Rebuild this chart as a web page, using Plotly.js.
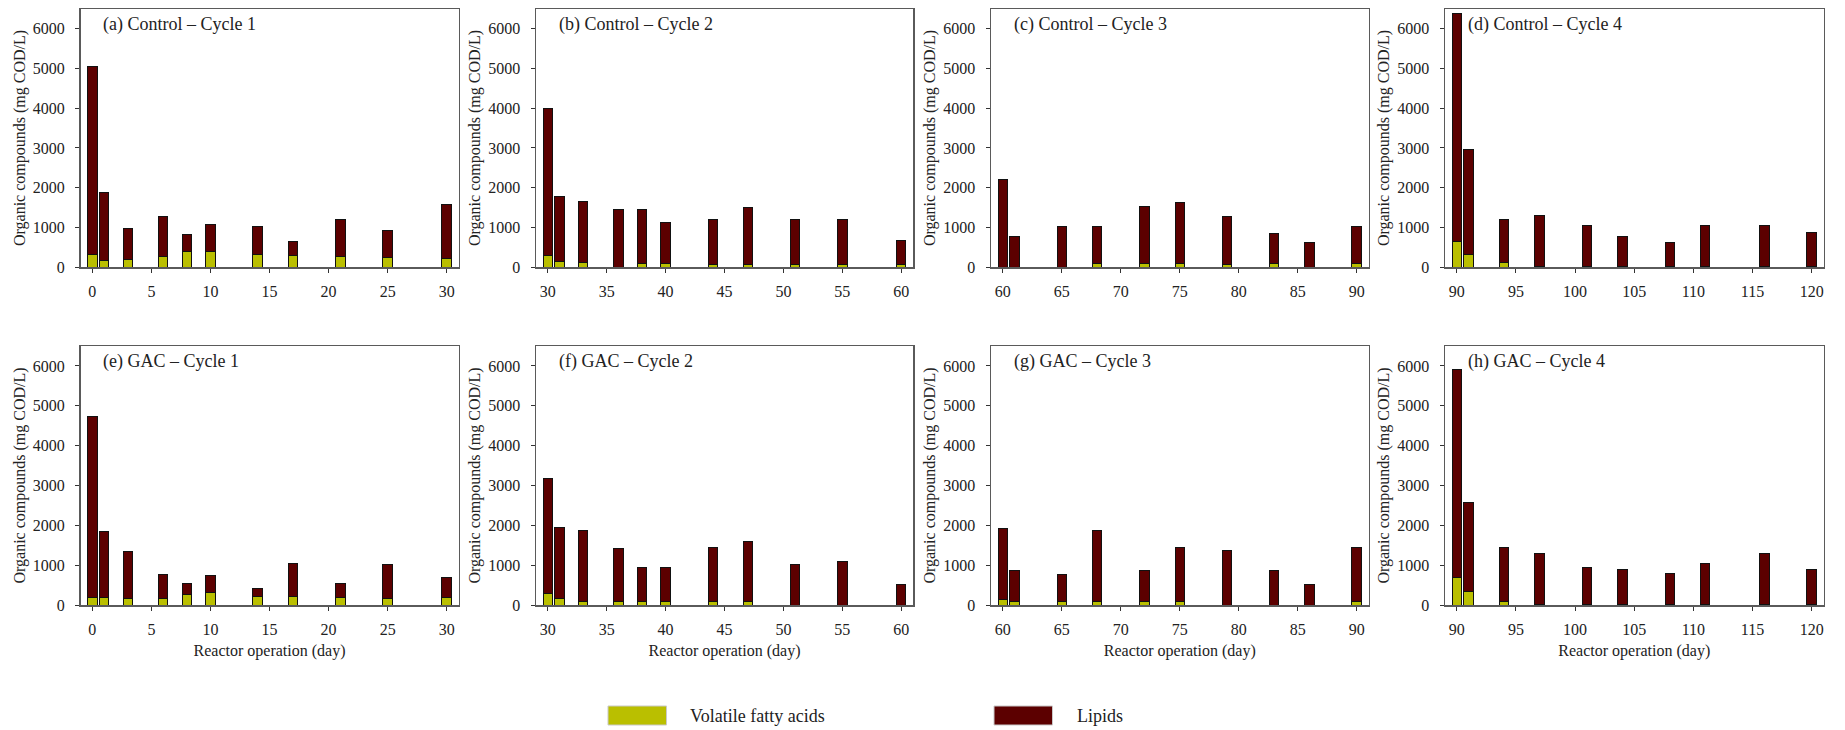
<!DOCTYPE html>
<html>
<head>
<meta charset="utf-8">
<script src="https://cdn.plot.ly/plotly-3.0.1.min.js"></script>
<style>
  html, body { margin: 0; padding: 0; background: #ffffff; }
  #chart { width: 1845px; height: 730px; }
</style>
</head>
<body>
<div id="chart"></div>
<script>
// ---------------- DATA ----------------
const seriesNames = ["Volatile fatty acids", "Lipids"];
const panelTitles = [
  "(a) Control – Cycle 1", "(b) Control – Cycle 2", "(c) Control – Cycle 3", "(d) Control – Cycle 4",
  "(e) GAC – Cycle 1", "(f) GAC – Cycle 2", "(g) GAC – Cycle 3", "(h) GAC – Cycle 4"
];

const daysCycle1 = [0, 1, 3, 6, 8, 10, 14, 17, 21, 25, 30];
const daysCycle2 = [30, 31, 33, 36, 38, 40, 44, 47, 51, 55, 60];
const daysCycle3 = [60, 61, 65, 68, 72, 75, 79, 83, 86, 90];
const daysCycle4 = [90, 91, 94, 97, 101, 104, 108, 111, 116, 120];

// Control reactor
const vfaControl1    = [320, 170, 190, 260, 400, 390, 320, 290, 260, 235, 220];
const lipidsControl1 = [4730, 1700, 780, 1020, 430, 680, 690, 350, 940, 690, 1345];
const vfaControl2    = [290, 150, 120, 0, 100, 90, 75, 60, 75, 75, 75];
const lipidsControl2 = [3710, 1615, 1525, 1440, 1360, 1035, 1120, 1445, 1120, 1120, 605];
const vfaControl3    = [0, 0, 0, 80, 80, 80, 70, 80, 0, 80];
const lipidsControl3 = [2210, 765, 1010, 940, 1440, 1535, 1200, 770, 605, 930];
const vfaControl4    = [655, 320, 110, 20, 20, 20, 20, 20, 20, 20];
const lipidsControl4 = [5735, 2630, 1090, 1275, 1020, 760, 585, 1020, 1020, 855];

// GAC reactor
const vfaGAC1    = [185, 185, 160, 160, 275, 320, 225, 210, 185, 160, 185];
const lipidsGAC1 = [4555, 1670, 1190, 610, 270, 420, 180, 840, 350, 845, 505];
const vfaGAC2    = [300, 175, 100, 100, 100, 100, 100, 85, 0, 0, 0];
const lipidsGAC2 = [2870, 1770, 1770, 1320, 850, 830, 1350, 1510, 1005, 1100, 510];
const vfaGAC3    = [150, 100, 85, 85, 85, 85, 0, 0, 0, 85];
const lipidsGAC3 = [1780, 775, 685, 1780, 780, 1360, 1360, 865, 510, 1360];
const vfaGAC4    = [690, 350, 85, 25, 25, 25, 25, 25, 25, 25];
const lipidsGAC4 = [5225, 2210, 1360, 1275, 925, 855, 765, 1005, 1275, 855];

const xTitle = "Reactor operation (day)";
const yTitle = "Organic compounds (mg COD/L)";

// ---------------- STYLE / LAYOUT ----------------
const W = 1845, H = 730;
const FONT = "'Liberation Serif', 'Times New Roman', Times, serif";
const colVFA = "#BABF00";
const colLip = "#5C0000";

const panelDays = [daysCycle1, daysCycle2, daysCycle3, daysCycle4,
                   daysCycle1, daysCycle2, daysCycle3, daysCycle4];
const panelVFA = [vfaControl1, vfaControl2, vfaControl3, vfaControl4,
                  vfaGAC1, vfaGAC2, vfaGAC3, vfaGAC4];
const panelLip = [lipidsControl1, lipidsControl2, lipidsControl3, lipidsControl4,
                  lipidsGAC1, lipidsGAC2, lipidsGAC3, lipidsGAC4];

// pixel boxes of the plot areas
const colPx = [[80.5, 458.5], [536, 913], [991, 1368.5], [1445, 1823.5]];
const rowPx = [[9, 267], [346, 605]];
const xRanges = [[-1, 31], [29, 61], [59, 91], [89, 121]];

const fx = p => p / W;
const fy = p => 1 - p / H;

const data = [];
const layout = {
  width: W, height: H,
  margin: {l: 0, r: 0, t: 0, b: 0},
  paper_bgcolor: "#ffffff",
  plot_bgcolor: "#ffffff",
  barmode: "stack",
  showlegend: false,
  font: {family: FONT, color: "#222", size: 16},
  annotations: [],
  shapes: []
};

for (let i = 0; i < 8; i++) {
  const r = Math.floor(i / 4), c = i % 4;
  const sfx = i === 0 ? "" : String(i + 1);
  const xa = "x" + sfx, ya = "y" + sfx;
  const days = panelDays[i];

  data.push({
    type: "bar", name: seriesNames[0], x: days, y: panelVFA[i],
    width: days.map(() => 0.8),
    marker: {color: colVFA, line: {color: "#111", width: 1}},
    xaxis: xa, yaxis: ya, hoverinfo: "x+y+name"
  });
  data.push({
    type: "bar", name: seriesNames[1], x: days, y: panelLip[i],
    width: days.map(() => 0.8),
    marker: {color: colLip, line: {color: "#111", width: 1}},
    xaxis: xa, yaxis: ya, hoverinfo: "x+y+name"
  });

  layout["xaxis" + sfx] = {
    domain: [fx(colPx[c][0]), fx(colPx[c][1])],
    anchor: ya,
    range: xRanges[c],
    tickmode: "linear", tick0: 0, dtick: 5,
    ticks: "outside", ticklen: 4, tickwidth: 1, tickcolor: "#333",
    showline: true, linecolor: "#5a5a5a", linewidth: 1.5, mirror: true,
    showgrid: false, zeroline: false,
    tickfont: {family: FONT, size: 16, color: "#222"},
    ticklabelstandoff: 5,
    title: r === 1 ? {text: xTitle, font: {family: FONT, size: 16, color: "#222"}, standoff: 8} : {text: ""}
  };
  layout["yaxis" + sfx] = {
    domain: [fy(rowPx[r][1]), fy(rowPx[r][0])],
    anchor: xa,
    range: [0, 6500],
    tickmode: "linear", tick0: 0, dtick: 1000,
    ticks: "outside", ticklen: 4, tickwidth: 1, tickcolor: "#333",
    showline: true, linecolor: "#5a5a5a", linewidth: 1.5, mirror: true,
    showgrid: false, zeroline: false,
    tickfont: {family: FONT, size: 16, color: "#222"},
    ticklabelstandoff: 7,
    title: {text: yTitle, font: {family: FONT, size: 16, color: "#222"}, standoff: 3}
  };

  layout.annotations.push({
    xref: "paper", yref: "paper",
    x: fx(colPx[c][0] + 20.5), y: fy(rowPx[r][0] + 15.5),
    xanchor: "left", yanchor: "middle",
    text: panelTitles[i], showarrow: false,
    font: {family: FONT, size: 18, color: "#222"}
  });
}

// custom legend (wide swatches as in the reference)
const legendItems = [
  {name: seriesNames[0], color: colVFA, x0: 608, textX: 688},
  {name: seriesNames[1], color: colLip, x0: 994, textX: 1075}
];
legendItems.forEach(it => {
  layout.shapes.push({
    type: "rect", xref: "paper", yref: "paper",
    x0: fx(it.x0), x1: fx(it.x0 + 58.5), y0: fy(725), y1: fy(706),
    fillcolor: it.color, line: {color: "#c9c9c9", width: 1}
  });
  layout.annotations.push({
    xref: "paper", yref: "paper", x: fx(it.textX), y: fy(715.5),
    xanchor: "left", yanchor: "middle", showarrow: false,
    text: it.name, font: {family: FONT, size: 18, color: "#222"}
  });
});

Plotly.newPlot("chart", data, layout, {displayModeBar: false, staticPlot: true});
</script>
</body>
</html>
